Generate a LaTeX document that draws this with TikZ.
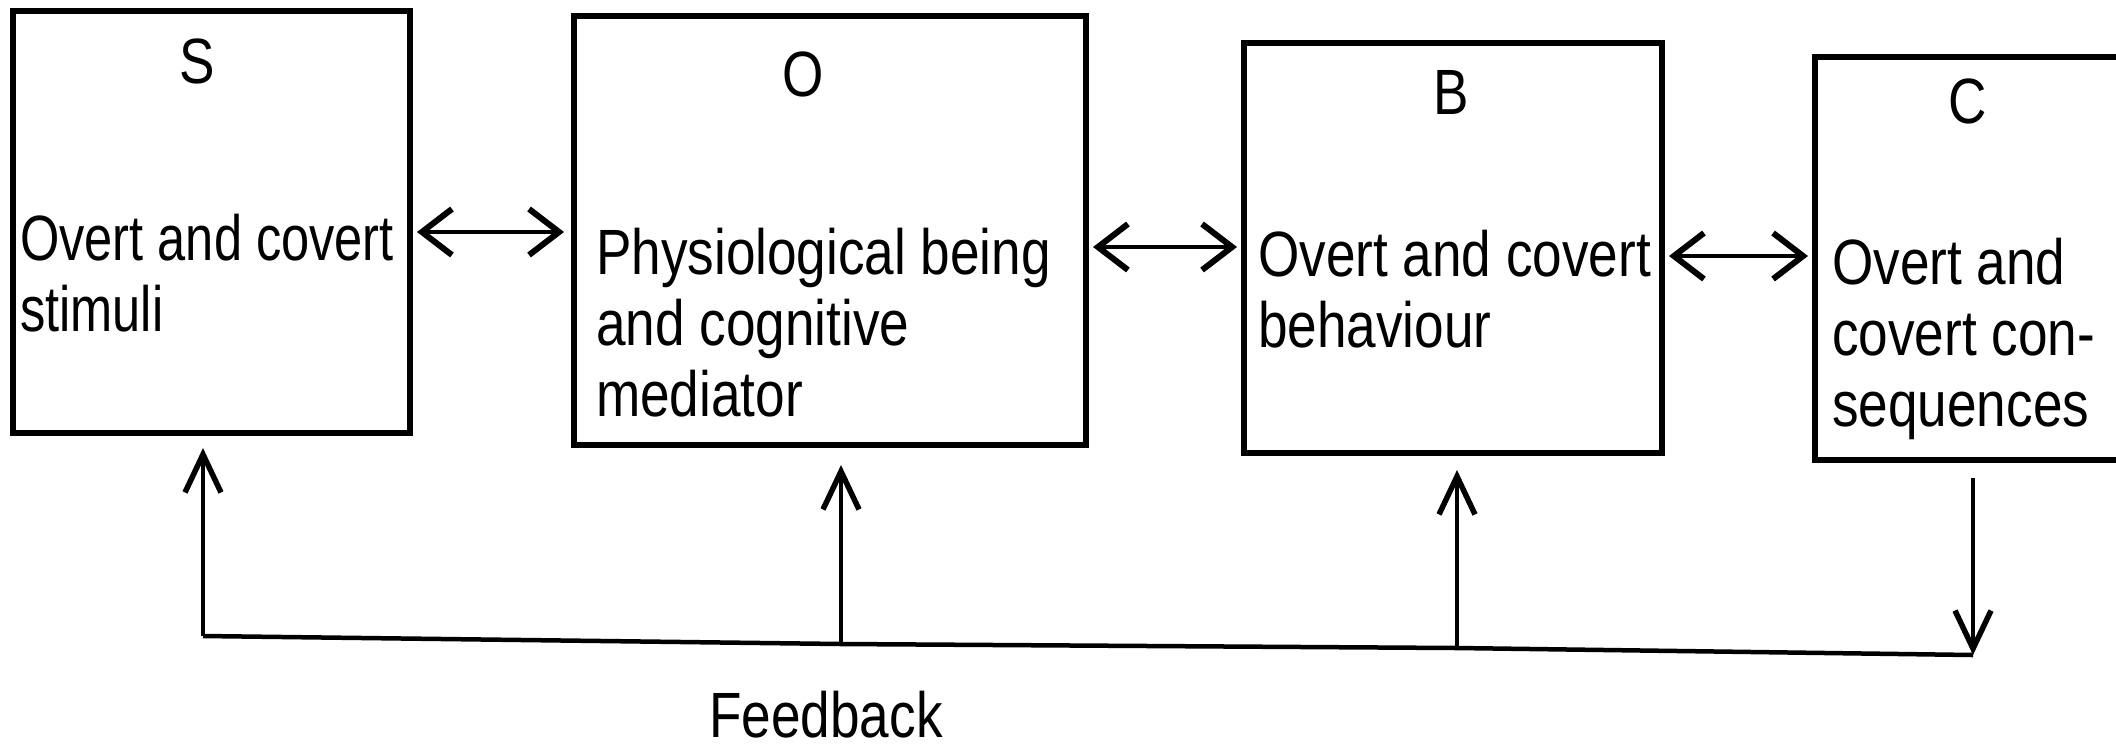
\documentclass[tikz,border=0pt]{standalone}
\usepackage{fontspec}
\setmainfont{Liberation Sans}[FakeStretch=0.83]
\usetikzlibrary{arrows.meta}
\begin{document}
\begin{tikzpicture}[x=1pt,y=-1pt,
  box/.style={draw=black, line width=5.5pt, inner sep=0pt},
  lbl/.style={inner sep=0pt, font=\fontsize{64}{71}\selectfont},
  txt/.style={inner sep=0pt, anchor=north west, align=left, font=\fontsize{64}{71}\selectfont},
  harr/.style={line width=3.5pt, {Straight Barb[length=30pt,width=46pt,line width=6pt]}-{Straight Barb[length=30pt,width=46pt,line width=6pt]}},
  varr/.style={line width=3.5pt, -{Straight Barb[length=38pt,width=36pt,line width=5.5pt]}},
  fline/.style={line width=4.5pt}
]
\useasboundingbox (0,0) rectangle (2116,748);
\fill[white] (0,0) rectangle (2116,748);
% boxes
\draw[box] (13,11) rectangle (410,433);
\coordinate (Sr) at (410,232); \coordinate (Sb) at (203,433);
\draw[box] (574,16) rectangle (1086,445);
\coordinate (Ol) at (574,232); \coordinate (Or) at (1086,247); \coordinate (Ob) at (841,445);
\draw[box] (1244,43) rectangle (1662,453);
\coordinate (Bl) at (1244,247); \coordinate (Br) at (1662,256); \coordinate (Bb) at (1457,453);
\draw[box] (1815,57) rectangle (2140,460);
\coordinate (Cl) at (1815,256); \coordinate (Cb) at (1973,460);
% letters
\node[lbl] (lS) at (197,61) {S};
\node[lbl] (lO) at (803,74) {O};
\node[lbl] (lB) at (1451,92) {B};
\node[lbl] (lC) at (1968,101) {C};
% texts
\node[txt] (tS) at (20,214) {\addfontfeatures{FakeStretch=0.79}Overt and covert\\\addfontfeatures{FakeStretch=0.79}stimuli};
\node[txt] (tO) at (596,228) {Physiological being\\and cognitive\\mediator};
\node[txt] (tB) at (1258,230) {Overt and covert\\behaviour};
\node[txt] (tC) at (1832,238) {Overt and\\covert con-\\sequences};
% horizontal double arrows
\draw[harr] ([xshift=7pt]Sr) -- ([xshift=-10pt]Ol);
\draw[harr] ([xshift=7pt]Or) -- ([xshift=-7pt]Bl);
\draw[harr] ([xshift=7pt]Br) -- ([xshift=-7pt]Cl);
% feedback loop
\coordinate (f1) at (203,636);
\coordinate (f2) at (841,644);
\coordinate (f3) at (1457,648);
\coordinate (f4) at (1973,655);
\draw[fline] (f1) -- (f2) -- (f3) -- (f4);
\draw[varr] (f1) -- ([yshift=-15pt]Sb);
\draw[varr] (f2) -- ([yshift=-20pt]Ob);
\draw[varr] (f3) -- ([yshift=-17pt]Bb);
\draw[varr] ([yshift=-18pt]Cb) -- (f4);
\node[lbl] (fb) at (826,715) {Feedback};
\end{tikzpicture}
\end{document}
